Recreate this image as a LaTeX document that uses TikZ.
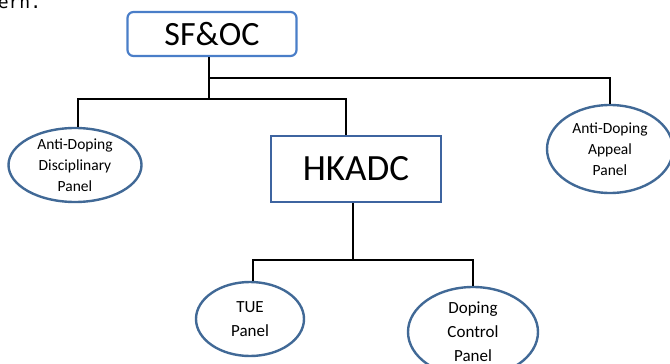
\documentclass[tikz,border=0pt]{standalone}
\usepackage{fontspec}
\setmainfont{Carlito}
\newfontfamily\codefont{DejaVu Sans Mono}
\usetikzlibrary{shapes.geometric}

\definecolor{sfblue}{RGB}{74,126,200}
\definecolor{hkblue}{RGB}{62,100,160}
\definecolor{panelblue}{RGB}{65,105,150}

\begin{document}
\begin{tikzpicture}[
  x=1pt,y=-1pt,line width=1.6pt,
  top/.style={draw=sfblue,rectangle,rounded corners=6pt,line width=2.2pt,minimum width=169pt,minimum height=44pt,inner sep=0pt,font=\fontsize{34}{40}\selectfont},
  board/.style={draw=hkblue,rectangle,line width=2.4pt,minimum width=170pt,minimum height=66pt,inner sep=0pt,font=\fontsize{37}{44}\selectfont},
  panel/.style={draw=panelblue,ellipse,line width=2.4pt,inner sep=-14pt,align=center,font=\fontsize{15.5}{21}\selectfont},
  bigpanel/.style={panel,font=\fontsize{17}{24}\selectfont}]
      \useasboundingbox (0,0) rectangle (670,364);

      \node [anchor=base west,inner sep=0pt,font=\codefont\fontsize{18}{20}\selectfont] (caption) at (-3,9) {ern.};

      \node [top] (sfoc) at (212,34) {SF\&OC};
      \node [board] (hkadc) at (356,169) {HKADC};
      \node [panel,minimum width=133pt,minimum height=74pt] (disc) at (75,165) {Anti-Doping\\Disciplinary\\Panel};
      \node [panel,minimum width=126pt,minimum height=88pt] (appeal) at (610,149) {Anti-Doping\\Appeal\\Panel};
      \node [bigpanel,minimum width=108pt,minimum height=74pt] (tue) at (250,319) {TUE\\Panel};
      \node [bigpanel,minimum width=130pt,minimum height=90pt] (dcp) at (473,332) {Doping\\Control\\Panel};

      \coordinate (upper) at (209,78);
      \coordinate (lower) at (209,99);
      \coordinate (split) at (353,260);

      \draw (sfoc.south -| lower) -- (lower);
      \draw (upper) -| (appeal.north);
      \draw ([xshift=3pt]disc.north) |- (lower) -| ([xshift=-10pt]hkadc.north);
      \draw ([xshift=-3pt]hkadc.south) -- (split);
      \draw ([xshift=3pt]tue.north) |- (split) -| (dcp.north);

  \end{tikzpicture}
\end{document}
